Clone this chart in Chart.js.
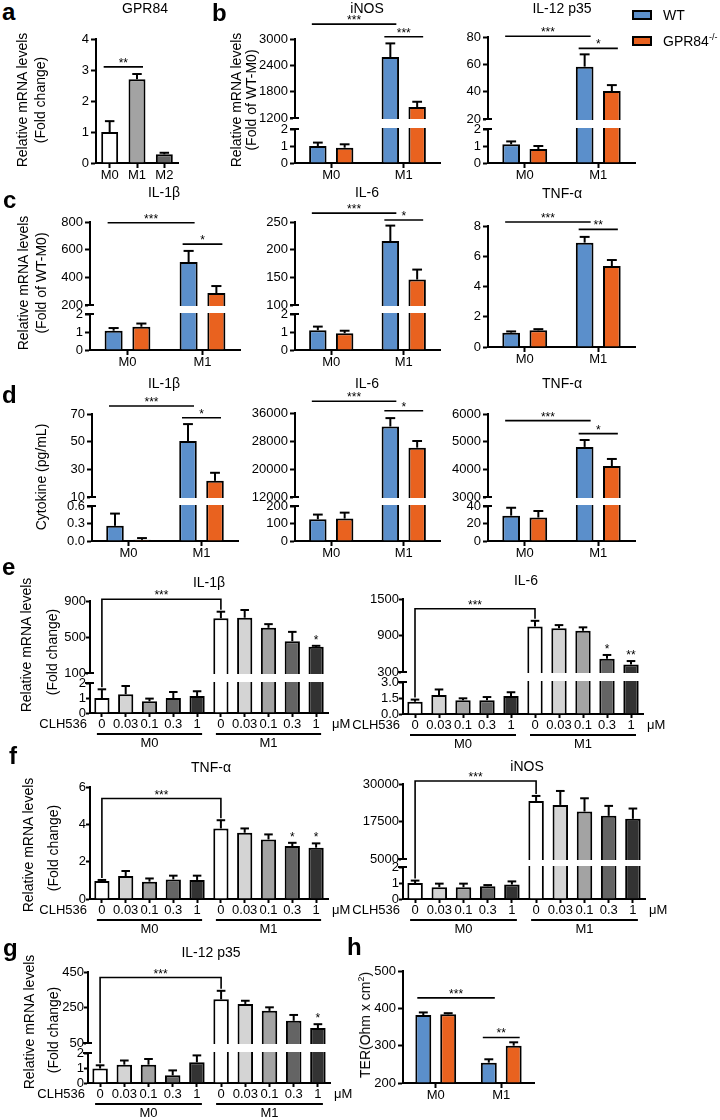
<!DOCTYPE html>
<html>
<head>
<meta charset="utf-8">
<title>GPR84 macrophage panels</title>
<script src="https://cdn.jsdelivr.net/npm/chart.js@4.4.1/dist/chart.umd.min.js"></script>
<style>
  html, body { margin: 0; padding: 0; background: #fff; }
  body { position: relative; width: 720px; height: 1120px; overflow: hidden;
         font-family: "Liberation Sans", Arial, sans-serif; color: #000; }
  canvas { position: absolute; }
  .t { position: absolute; white-space: nowrap; line-height: 1; font-size: 14px; transform: translate(-50%, -50%); }
  .r { transform: translate(-50%, -50%) rotate(-90deg); }
  .l { transform: translate(0, -50%); }
  .p { position: absolute; font-size: 24px; font-weight: bold; line-height: 24px; }
  .key { position: absolute; width: 16px; height: 6px; border: 2px solid #000; }
  sup { font-size: 9px; line-height: 0; }
</style>
</head>
<body>
<script>
// ---- values ----
const BLUE = '#5b8fcb';
const ORANGE = '#e9621f';
const SHADES = ['#ffffff', '#d4d4d4', '#a3a3a3', '#646464', '#333333'];

// a: GPR84
const aCats = ['M0', 'M1', 'M2'];
const aVals = [1.0, 2.7, 0.28];
const aErr = [0.35, 0.17, 0.05];
const aTicks = ['0', '1', '2', '3', '4'];
const aSig = [['**', 0, 1, 3.1]];

// b-d, h: WT vs GPR84-/-   (sig: label, bar from, bar to, level)
const mCats = ['M0', 'M1'];

const bInosWT = [1.0, 2590], bInosWTErr = [0.2, 310];
const bInosKO = [0.9, 1450], bInosKOErr = [0.2, 120];
const bInosTicks = ['0', '1', '2', '1200', '1800', '2400', '3000'];
const bInosSig = [['***', 0, 2, 3340], ['***', 2, 3, 3050]];

const bIl12WT = [1.1, 58.3], bIl12WTErr = [0.17, 9];
const bIl12KO = [0.82, 40.4], bIl12KOErr = [0.18, 4.4];
const bIl12Ticks = ['0', '1', '2', '20', '40', '60', '80'];
const bIl12Sig = [['***', 0, 2, 80.5], ['*', 2, 3, 71.7]];

const cIl1bWT = [1.07, 511], cIl1bWTErr = [0.15, 80];
const cIl1bKO = [1.29, 286], cIl1bKOErr = [0.18, 51];
const cIl1bTicks = ['0', '1', '2', '200', '400', '600', '800'];
const cIl1bSig = [['***', 0, 2, 795], ['*', 2, 3, 640]];

const cIl6WT = [1.1, 215.5], cIl6WTErr = [0.2, 28];
const cIl6KO = [0.93, 146], cIl6KOErr = [0.14, 18];
const cIl6Ticks = ['0', '1', '2', '100', '150', '200', '250'];
const cIl6Sig = [['***', 0, 2, 266], ['*', 2, 3, 253.6]];

const cTnfWT = [0.95, 6.9], cTnfWTErr = [0.08, 0.38];
const cTnfKO = [1.1, 5.35], cTnfKOErr = [0.08, 0.4];
const cTnfTicks = ['0', '2', '4', '6', '8'];
const cTnfSig = [['***', 0, 2, 8.26], ['**', 2, 3, 7.78]];

const dIl1bWT = [0.26, 50.5], dIl1bWTErr = [0.21, 12.2];
const dIl1bKO = [0.02, 21.7], dIl1bKOErr = [0.03, 5.8];
const dIl1bTicks = ['0.0', '0.3', '0.6', '10', '30', '50', '70'];
const dIl1bSig = [['***', 0, 2, 75.8], ['*', 2, 3, 67.3]];

const dIl6WT = [124, 32140], dIl6WTErr = [27, 2400];
const dIl6KO = [128, 26100], dIl6KOErr = [34, 1900];
const dIl6Ticks = ['0', '100', '200', '12000', '20000', '28000', '36000'];
const dIl6Sig = [['***', 0, 2, 39340], ['*', 2, 3, 36660]];

const dTnfWT = [29, 4810], dTnfWTErr = [9, 250];
const dTnfKO = [26.8, 4120], dTnfKOErr = [7.5, 255];
const dTnfTicks = ['0', '20', '40', '3000', '4000', '5000', '6000'];
const dTnfSig = [['***', 0, 2, 5760], ['*', 2, 3, 5290]];

const hTerWT = [382, 254.5], hTerWTErr = [7, 9];
const hTerKO = [384, 300], hTerKOErr = [3, 9];
const hTerTicks = ['200', '300', '400', '500'];
const hTerSig = [['***', 0, 2, 428], ['**', 2, 3, 322]];

// e-g: CLH536 dose series, M0 then M1
const doses = ['0', '0.03', '0.1', '0.3', '1'];
const doseCats = [...doses, ...doses];
const doseGroups = ['M0', 'M1'];

const eIl1b = [1.0, 1.25, 0.78, 1.0, 1.13, 708, 714, 602, 454, 391];
const eIl1bErr = [0.58, 0.55, 0.18, 0.4, 0.32, 73, 86, 41, 103, 11];
const eIl1bTicks = ['0', '1', '2', '100', '500', '900'];
const eIl1bSig = [['***', 0, 5, 919]];
const eIl1bStars = ['', '', '', '', '', '', '', '', '', '*'];

const eIl6 = [1.14, 1.77, 1.29, 1.29, 1.68, 1050, 1018, 980, 519, 423];
const eIl6Err = [0.21, 0.53, 0.18, 0.3, 0.36, 91, 53, 54, 61, 57];
const eIl6Ticks = ['0.0', '1.5', '3.0', '300', '900', '1500'];
const eIl6Sig = [['***', 0, 5, 1340]];
const eIl6Stars = ['', '', '', '', '', '', '', '', '*', '**'];

const fTnf = [0.97, 1.23, 0.93, 1.05, 1.02, 3.78, 3.55, 3.19, 2.84, 2.75];
const fTnfErr = [0.05, 0.27, 0.17, 0.2, 0.23, 0.44, 0.23, 0.27, 0.17, 0.23];
const fTnfTicks = ['0', '2', '4', '6'];
const fTnfSig = [['***', 0, 5, 5.38]];
const fTnfStars = ['', '', '', '', '', '', '', '', '*', '*'];

const fInos = [1.0, 0.74, 0.74, 0.8, 0.9, 24360, 23030, 20820, 19380, 18390];
const fInosErr = [0.15, 0.22, 0.22, 0.07, 0.2, 1660, 4650, 4420, 3320, 3430];
const fInosTicks = ['0', '1', '2', '5000', '17500', '30000'];
const fInosSig = [['***', 0, 5, 31000]];

const gIl12 = [0.96, 1.22, 1.22, 0.51, 1.38, 296, 270, 231, 175, 134];
const gIl12Err = [0.22, 0.28, 0.38, 0.33, 0.46, 48, 18, 20, 33, 22];
const gIl12Ticks = ['0', '1', '2', '50', '250', '450'];
const gIl12Sig = [['***', 0, 5, 419]];
const gIl12Stars = ['', '', '', '', '', '', '', '', '', '*'];

// ---- layout: plot area of each chart on the page (px), break sizes ----
const BOX = {
  a:  { L: 96,  R: 178, T: 39,  B: 163 },
  bI: { L: 295, R: 440, T: 39,  B: 163, loH: 34, gap: 11 },
  bL: { L: 488, R: 635, T: 37,  B: 163, loH: 34, gap: 10 },
  cI: { L: 90,  R: 240, T: 222, B: 350, loH: 36, gap: 9 },
  c6: { L: 295, R: 440, T: 222, B: 350, loH: 36, gap: 9 },
  cT: { L: 488, R: 635, T: 226, B: 347 },
  dI: { L: 92,  R: 238, T: 414, B: 541, loH: 35, gap: 9 },
  d6: { L: 295, R: 440, T: 413, B: 541, loH: 35, gap: 9 },
  dT: { L: 488, R: 635, T: 414, B: 541, loH: 35, gap: 9 },
  eI: { L: 90,  R: 328, T: 601, B: 713, loH: 30, gap: 10 },
  e6: { L: 403, R: 643, T: 599, B: 714, loH: 32, gap: 10 },
  fT: { L: 90,  R: 328, T: 787, B: 899 },
  fN: { L: 403, R: 645, T: 784, B: 899, loH: 32, gap: 8 },
  g:  { L: 88,  R: 330, T: 972, B: 1083, loH: 30, gap: 10 },
  h:  { L: 403, R: 534, T: 971, B: 1083 },
};
const YW = 70, TP = 35, RP = 30;
const CFG = {};

Chart.defaults.font.family = '"Liberation Sans", Arial, sans-serif';
Chart.defaults.font.size = 13;
Chart.defaults.color = '#000';

// linear scale with an optional gap between a low and a high segment
class BrokenScale extends Chart.LinearScale {
  static id = 'broken';
  determineDataLimits() {
    const v = CFG[this.chart.canvas.id].tickVals;
    this.min = v[0];
    this.max = v[v.length - 1];
  }
  buildTicks() {
    return CFG[this.chart.canvas.id].tickVals.map(value => ({ value }));
  }
  getPixelForValue(v) {
    if (v === null || v === undefined || isNaN(v)) return NaN;
    const b = CFG[this.chart.canvas.id].brk;
    const top = this.top, bot = this.bottom;
    if (!b) return bot - (v - this.min) / (this.max - this.min) * (bot - top);
    const yLo = bot - b.loH, yHi = yLo - b.gap;
    if (v <= b.lo) return bot - (v - this.min) / (b.lo - this.min) * b.loH;
    if (v >= b.hi) return yHi - (v - b.hi) / (this.max - b.hi) * (yHi - top);
    return yLo - (v - b.lo) / (b.hi - b.lo) * b.gap;
  }
}
Chart.register(BrokenScale);

function seg(ctx, x1, y1, x2, y2) {
  ctx.beginPath();
  ctx.moveTo(x1, y1);
  ctx.lineTo(x2, y2);
  ctx.stroke();
}

// gap band, error bars, significance marks, dose group labels
const overlay = {
  id: 'overlay',
  afterDatasetsDraw(chart) {
    const c = CFG[chart.canvas.id];
    const ctx = chart.ctx, y = chart.scales.y, area = chart.chartArea;
    const nDs = c.series.length;
    ctx.save();
    ctx.strokeStyle = '#000';
    ctx.lineWidth = 2;

    if (c.brk) {
      const yLo = y.getPixelForValue(c.brk.lo);
      const yHi = y.getPixelForValue(c.brk.hi);
      ctx.fillStyle = '#fff';
      ctx.fillRect(area.left - 2, yHi + 1, area.right - area.left + 4, yLo - yHi - 2);
      seg(ctx, area.left - 5, yHi, area.left + 4, yHi);
      seg(ctx, area.left - 5, yLo, area.left + 4, yLo);
    }

    c.series.forEach((s, d) => {
      chart.getDatasetMeta(d).data.forEach((bar, i) => {
        const top = y.getPixelForValue(s.data[i]);
        const end = y.getPixelForValue(s.data[i] + s.err[i]);
        const half = bar.width * 0.28;
        seg(ctx, bar.x, top, bar.x, end);
        seg(ctx, bar.x - half, end, bar.x + half, end);
      });
    });

    const barAt = k => chart.getDatasetMeta(k % nDs).data[Math.floor(k / nDs)];
    const errTop = k => {
      const s = c.series[k % nDs], i = Math.floor(k / nDs);
      return y.getPixelForValue(s.data[i] + s.err[i]);
    };
    ctx.fillStyle = '#000';
    ctx.lineWidth = 1.6;
    ctx.font = '12px "Liberation Sans", Arial, sans-serif';
    ctx.textAlign = 'center';
    ctx.textBaseline = 'alphabetic';
    c.sig.forEach(([txt, ka, kb, v]) => {
      const a = barAt(ka), b = barAt(kb), py = y.getPixelForValue(v);
      if (c.legs) {
        ctx.beginPath();
        ctx.moveTo(a.x, errTop(ka) - 2);
        ctx.lineTo(a.x, py);
        ctx.lineTo(b.x, py);
        ctx.lineTo(b.x, errTop(kb) - 2);
        ctx.stroke();
      } else {
        seg(ctx, a.x - 6, py, b.x + 6, py);
      }
      ctx.fillText(txt, (a.x + b.x) / 2, py);
    });
    (c.stars || []).forEach((st, i) => {
      if (st) ctx.fillText(st, barAt(i * nDs).x, errTop(i * nDs) - 2);
    });

    if (c.groups) {
      const xs = chart.getDatasetMeta(0).data.map(e => e.x);
      const yb = area.bottom;
      ctx.font = '13px "Liberation Sans", Arial, sans-serif';
      ctx.textBaseline = 'middle';
      ctx.textAlign = 'right';
      ctx.fillText('CLH536', area.left - 3, yb + 11);
      ctx.textAlign = 'left';
      ctx.fillText('\u03bcM', area.right + 4, yb + 11);
      ctx.textAlign = 'center';
      ctx.lineWidth = 2;
      c.groups.forEach((name, gi) => {
        const x0 = xs[gi * 5], x1 = xs[gi * 5 + 4];
        seg(ctx, x0 - 5, yb + 21, x1 + 5, yb + 21);
        ctx.fillText(name, (x0 + x1) / 2, yb + 30);
      });
    }
    ctx.restore();
  }
};

function plot(id, cats, series, tickLabels, split, sig, more) {
  more = more || {};
  const box = BOX[id];
  const tickVals = tickLabels.map(Number);
  const cfg = { series, sig, tickVals, legs: !!more.legs, stars: more.stars, groups: more.groups };
  if (split) cfg.brk = { lo: tickVals[split - 1], hi: tickVals[split], loH: box.loH, gap: box.gap };
  CFG[id] = cfg;

  const xh = more.groups ? 45 : 25;
  const tick = more.groups ? 4 : 5;
  const cv = document.createElement('canvas');
  cv.id = id;
  cv.width = box.R - box.L + YW + RP;
  cv.height = box.B - box.T + TP + xh;
  cv.style.left = (box.L - YW) + 'px';
  cv.style.top = (box.T - TP) + 'px';
  document.body.appendChild(cv);

  new Chart(cv, {
    type: 'bar',
    data: {
      labels: cats,
      datasets: series.map(s => ({
        data: s.data,
        backgroundColor: s.color,
        borderColor: '#000',
        borderWidth: 2,
        base: tickVals[0],
        categoryPercentage: more.catPct || 1,
        barPercentage: more.barPct || 0.64,
      }))
    },
    options: {
      responsive: false,
      animation: false,
      devicePixelRatio: 1,
      layout: { padding: { left: 0, right: RP, top: TP, bottom: 0 } },
      plugins: { legend: { display: false }, tooltip: { enabled: false } },
      scales: {
        x: {
          z: 1,
          grid: { offset: false, drawOnChartArea: false, tickLength: tick, tickWidth: 2, tickColor: '#000' },
          border: { color: '#000', width: 2 },
          ticks: { padding: 0, autoSkip: false, maxRotation: 0, minRotation: 0 },
          afterFit: s => { s.height = xh; }
        },
        y: {
          type: 'broken',
          grid: { drawOnChartArea: false, tickLength: more.groups ? 4 : 5, tickWidth: 2, tickColor: '#000' },
          border: { color: '#000', width: 2 },
          ticks: { autoSkip: false, padding: more.groups ? 0 : 2, callback: (v, i) => tickLabels[i] },
          afterFit: s => { s.width = YW; }
        }
      }
    },
    plugins: [overlay]
  });
}

const pair = (wt, wtErr, ko, koErr) => [
  { data: wt, err: wtErr, color: BLUE },
  { data: ko, err: koErr, color: ORANGE }
];
const grouped = { catPct: 0.74, barPct: 0.65 };
const doseColors = [...SHADES, ...SHADES];
const doseOpts = stars => ({ legs: true, stars, groups: doseGroups, barPct: 0.64 });

plot('a', aCats, [{ data: aVals, err: aErr, color: ['#ffffff', '#a3a3a3', '#646464'] }], aTicks, 0, aSig, { barPct: 0.62 });
plot('bI', mCats, pair(bInosWT, bInosWTErr, bInosKO, bInosKOErr), bInosTicks, 3, bInosSig, grouped);
plot('bL', mCats, pair(bIl12WT, bIl12WTErr, bIl12KO, bIl12KOErr), bIl12Ticks, 3, bIl12Sig, grouped);
plot('cI', mCats, pair(cIl1bWT, cIl1bWTErr, cIl1bKO, cIl1bKOErr), cIl1bTicks, 3, cIl1bSig, grouped);
plot('c6', mCats, pair(cIl6WT, cIl6WTErr, cIl6KO, cIl6KOErr), cIl6Ticks, 3, cIl6Sig, grouped);
plot('cT', mCats, pair(cTnfWT, cTnfWTErr, cTnfKO, cTnfKOErr), cTnfTicks, 0, cTnfSig, grouped);
plot('dI', mCats, pair(dIl1bWT, dIl1bWTErr, dIl1bKO, dIl1bKOErr), dIl1bTicks, 3, dIl1bSig, grouped);
plot('d6', mCats, pair(dIl6WT, dIl6WTErr, dIl6KO, dIl6KOErr), dIl6Ticks, 3, dIl6Sig, grouped);
plot('dT', mCats, pair(dTnfWT, dTnfWTErr, dTnfKO, dTnfKOErr), dTnfTicks, 3, dTnfSig, grouped);
plot('eI', doseCats, [{ data: eIl1b, err: eIl1bErr, color: doseColors }], eIl1bTicks, 3, eIl1bSig, doseOpts(eIl1bStars));
plot('e6', doseCats, [{ data: eIl6, err: eIl6Err, color: doseColors }], eIl6Ticks, 3, eIl6Sig, doseOpts(eIl6Stars));
plot('fT', doseCats, [{ data: fTnf, err: fTnfErr, color: doseColors }], fTnfTicks, 0, fTnfSig, doseOpts(fTnfStars));
plot('fN', doseCats, [{ data: fInos, err: fInosErr, color: doseColors }], fInosTicks, 3, fInosSig, doseOpts(null));
plot('g', doseCats, [{ data: gIl12, err: gIl12Err, color: doseColors }], gIl12Ticks, 3, gIl12Sig, doseOpts(gIl12Stars));
plot('h', mCats, pair(hTerWT, hTerWTErr, hTerKO, hTerKOErr), hTerTicks, 0, hTerSig, { catPct: 0.76, barPct: 0.64 });

// ---- page text ----
function put(html, x, y, cls) {
  const d = document.createElement('div');
  d.className = cls;
  d.innerHTML = html;
  d.style.left = x + 'px';
  d.style.top = y + 'px';
  document.body.appendChild(d);
  return d;
}

[['a', 2, 0], ['b', 212, 1], ['c', 3, 188], ['d', 2, 383],
 ['e', 2, 555], ['f', 9, 744], ['g', 3, 936], ['h', 347, 935]]
  .forEach(([s, x, y]) => put(s, x, y, 'p'));

[['GPR84', 145, 7.5], ['iNOS', 367, 7.5], ['IL-12 p35', 562, 7.5],
 ['IL-1β', 164, 192], ['IL-6', 367, 192], ['TNF-α', 562, 193],
 ['IL-1β', 164, 382.5], ['IL-6', 367, 382.5], ['TNF-α', 562, 382.5],
 ['IL-1β', 209, 582], ['IL-6', 526, 580],
 ['TNF-α', 211, 767], ['iNOS', 527, 766],
 ['IL-12 p35', 211, 952]]
  .forEach(([s, x, y]) => put(s, x, y, 't'));

[['Relative mRNA levels', 22, 100], ['(Fold change)', 40, 100],
 ['Relative mRNA levels', 236, 100], ['(Fold of WT-M0)', 251, 100],
 ['Relative mRNA levels', 23, 283], ['(Fold of WT-M0)', 41, 283],
 ['Cytokine (pg/mL)', 41, 477],
 ['Relative mRNA levels', 26, 645], ['(Fold change)', 52, 652],
 ['Relative mRNA levels', 28, 845], ['(Fold change)', 53, 848],
 ['Relative mRNA levels', 29, 1022], ['(Fold change)', 53, 1030],
 ['TER(Ohm x cm<sup>2</sup>)', 365, 1025]]
  .forEach(([s, x, y]) => put(s, x, y, 't r'));

// legend
put('', 632, 10, 'key').style.background = BLUE;
put('', 632, 36, 'key').style.background = ORANGE;
put('WT', 663, 15, 't l');
put('GPR84<sup>-/-</sup>', 663, 41, 't l');
</script>
</body>
</html>
